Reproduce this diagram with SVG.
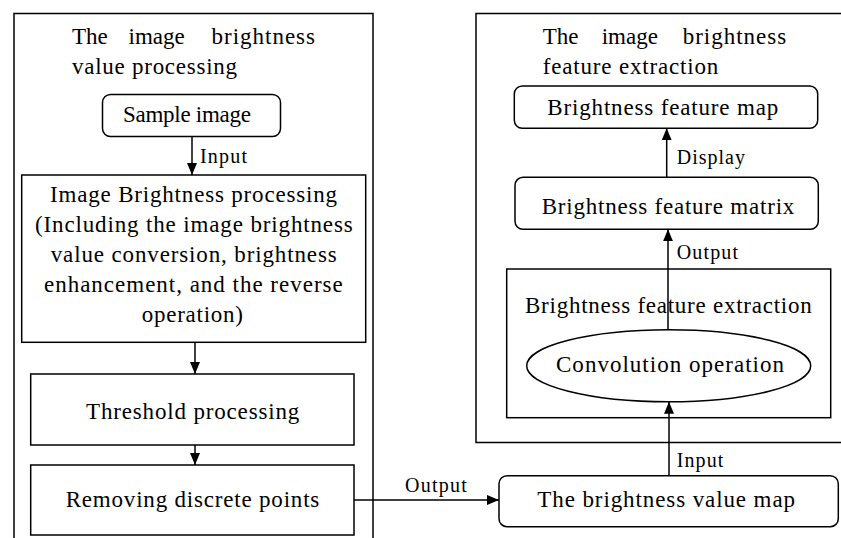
<svg xmlns="http://www.w3.org/2000/svg" width="841" height="538" viewBox="0 0 841 538">
<defs>
<marker id="ah" markerWidth="12" markerHeight="10" refX="12" refY="5" orient="auto" markerUnits="userSpaceOnUse">
<path d="M0,0 L12,5 L0,10 z" fill="#000"/>
</marker>
<style>
.box { fill: #fff; stroke: #000; stroke-width: 1.5; }
.frame { fill: none; stroke: #000; stroke-width: 1.5; }
text { font-family: "Liberation Serif", "Times New Roman", serif; font-size: 23px; fill: #000; }
.lbl { font-size: 20px; }
.conn line { stroke: #000; stroke-width: 1.5; marker-end: url(#ah); }
</style>
</defs>

<g id="left-frame">
<rect class="frame" x="14" y="13.5" width="359" height="540"/>
<text y="44"><tspan x="72">The</tspan><tspan x="128.5">image</tspan><tspan x="211.5" textLength="103.5">brightness</tspan></text>
<text x="72" y="74" textLength="165">value processing</text>
</g>

<g id="right-frame">
<rect class="frame" x="476" y="13.5" width="400" height="429"/>
<text y="44"><tspan x="542.7">The</tspan><tspan x="601.7">image</tspan><tspan x="682.7" textLength="103.5">brightness</tspan></text>
<text x="542.7" y="74" textLength="175.6">feature extraction</text>
</g>

<g id="sample-image">
<rect class="box" x="102.5" y="94.5" width="178" height="42" rx="8"/>
<text x="123" y="122" textLength="128">Sample image</text>
</g>

<g id="brightness-processing">
<rect class="box" x="21.7" y="175" width="344" height="167.3"/>
<text x="50" y="202" textLength="287">Image Brightness processing</text>
<text x="35" y="232" textLength="317.7">(Including the image brightness</text>
<text x="50.7" y="262" textLength="286">value conversion, brightness</text>
<text x="44" y="292" textLength="298.7">enhancement, and the reverse</text>
<text x="141.7" y="322" textLength="101.3">operation)</text>
</g>

<g id="threshold">
<rect class="box" x="30.7" y="374" width="323.3" height="71"/>
<text x="86" y="418.5" textLength="213.3">Threshold processing</text>
</g>

<g id="removing">
<rect class="box" x="30.7" y="465" width="323.3" height="70"/>
<text x="65.7" y="507" textLength="253.6">Removing discrete points</text>
</g>

<g id="value-map">
<rect class="box" x="499" y="475.7" width="339.3" height="51" rx="8"/>
<text x="537.3" y="507" textLength="257.7">The brightness value map</text>
</g>

<g id="feature-map">
<rect class="box" x="514.3" y="86" width="303.4" height="42.3" rx="8"/>
<text x="547.3" y="115" textLength="231">Brightness feature map</text>
</g>

<g id="feature-matrix">
<rect class="box" x="515" y="177.3" width="303.3" height="52" rx="8"/>
<text x="541.7" y="213.5" textLength="252.6">Brightness feature matrix</text>
</g>

<g id="feature-extraction">
<rect class="box" x="506.7" y="269" width="324" height="148.7"/>
<text x="525" y="313" textLength="286.7">Brightness feature extraction</text>
</g>

<g id="convolution">
<ellipse class="box" cx="668.7" cy="365.8" rx="142" ry="36"/>
<text x="556" y="372" textLength="228">Convolution operation</text>
</g>

<g id="connectors" class="conn">
<line x1="192" y1="136.5" x2="192" y2="175"/>
<line x1="195" y1="342.3" x2="195" y2="374"/>
<line x1="195" y1="445" x2="195" y2="465"/>
<line x1="354" y1="500" x2="499" y2="500"/>
<line x1="666.7" y1="177.3" x2="666.7" y2="128.3"/>
<line x1="668" y1="330" x2="668" y2="229.3"/>
<line x1="669" y1="475.7" x2="669" y2="401.8"/>
<text class="lbl" x="200" y="163" textLength="47">Input</text>
<text class="lbl" x="405" y="492" textLength="61.7">Output</text>
<text class="lbl" x="676.7" y="163.5" textLength="68.3">Display</text>
<text class="lbl" x="676.7" y="258.5" textLength="61.3">Output</text>
<text class="lbl" x="676.7" y="467" textLength="46.6">Input</text>
</g>
</svg>
